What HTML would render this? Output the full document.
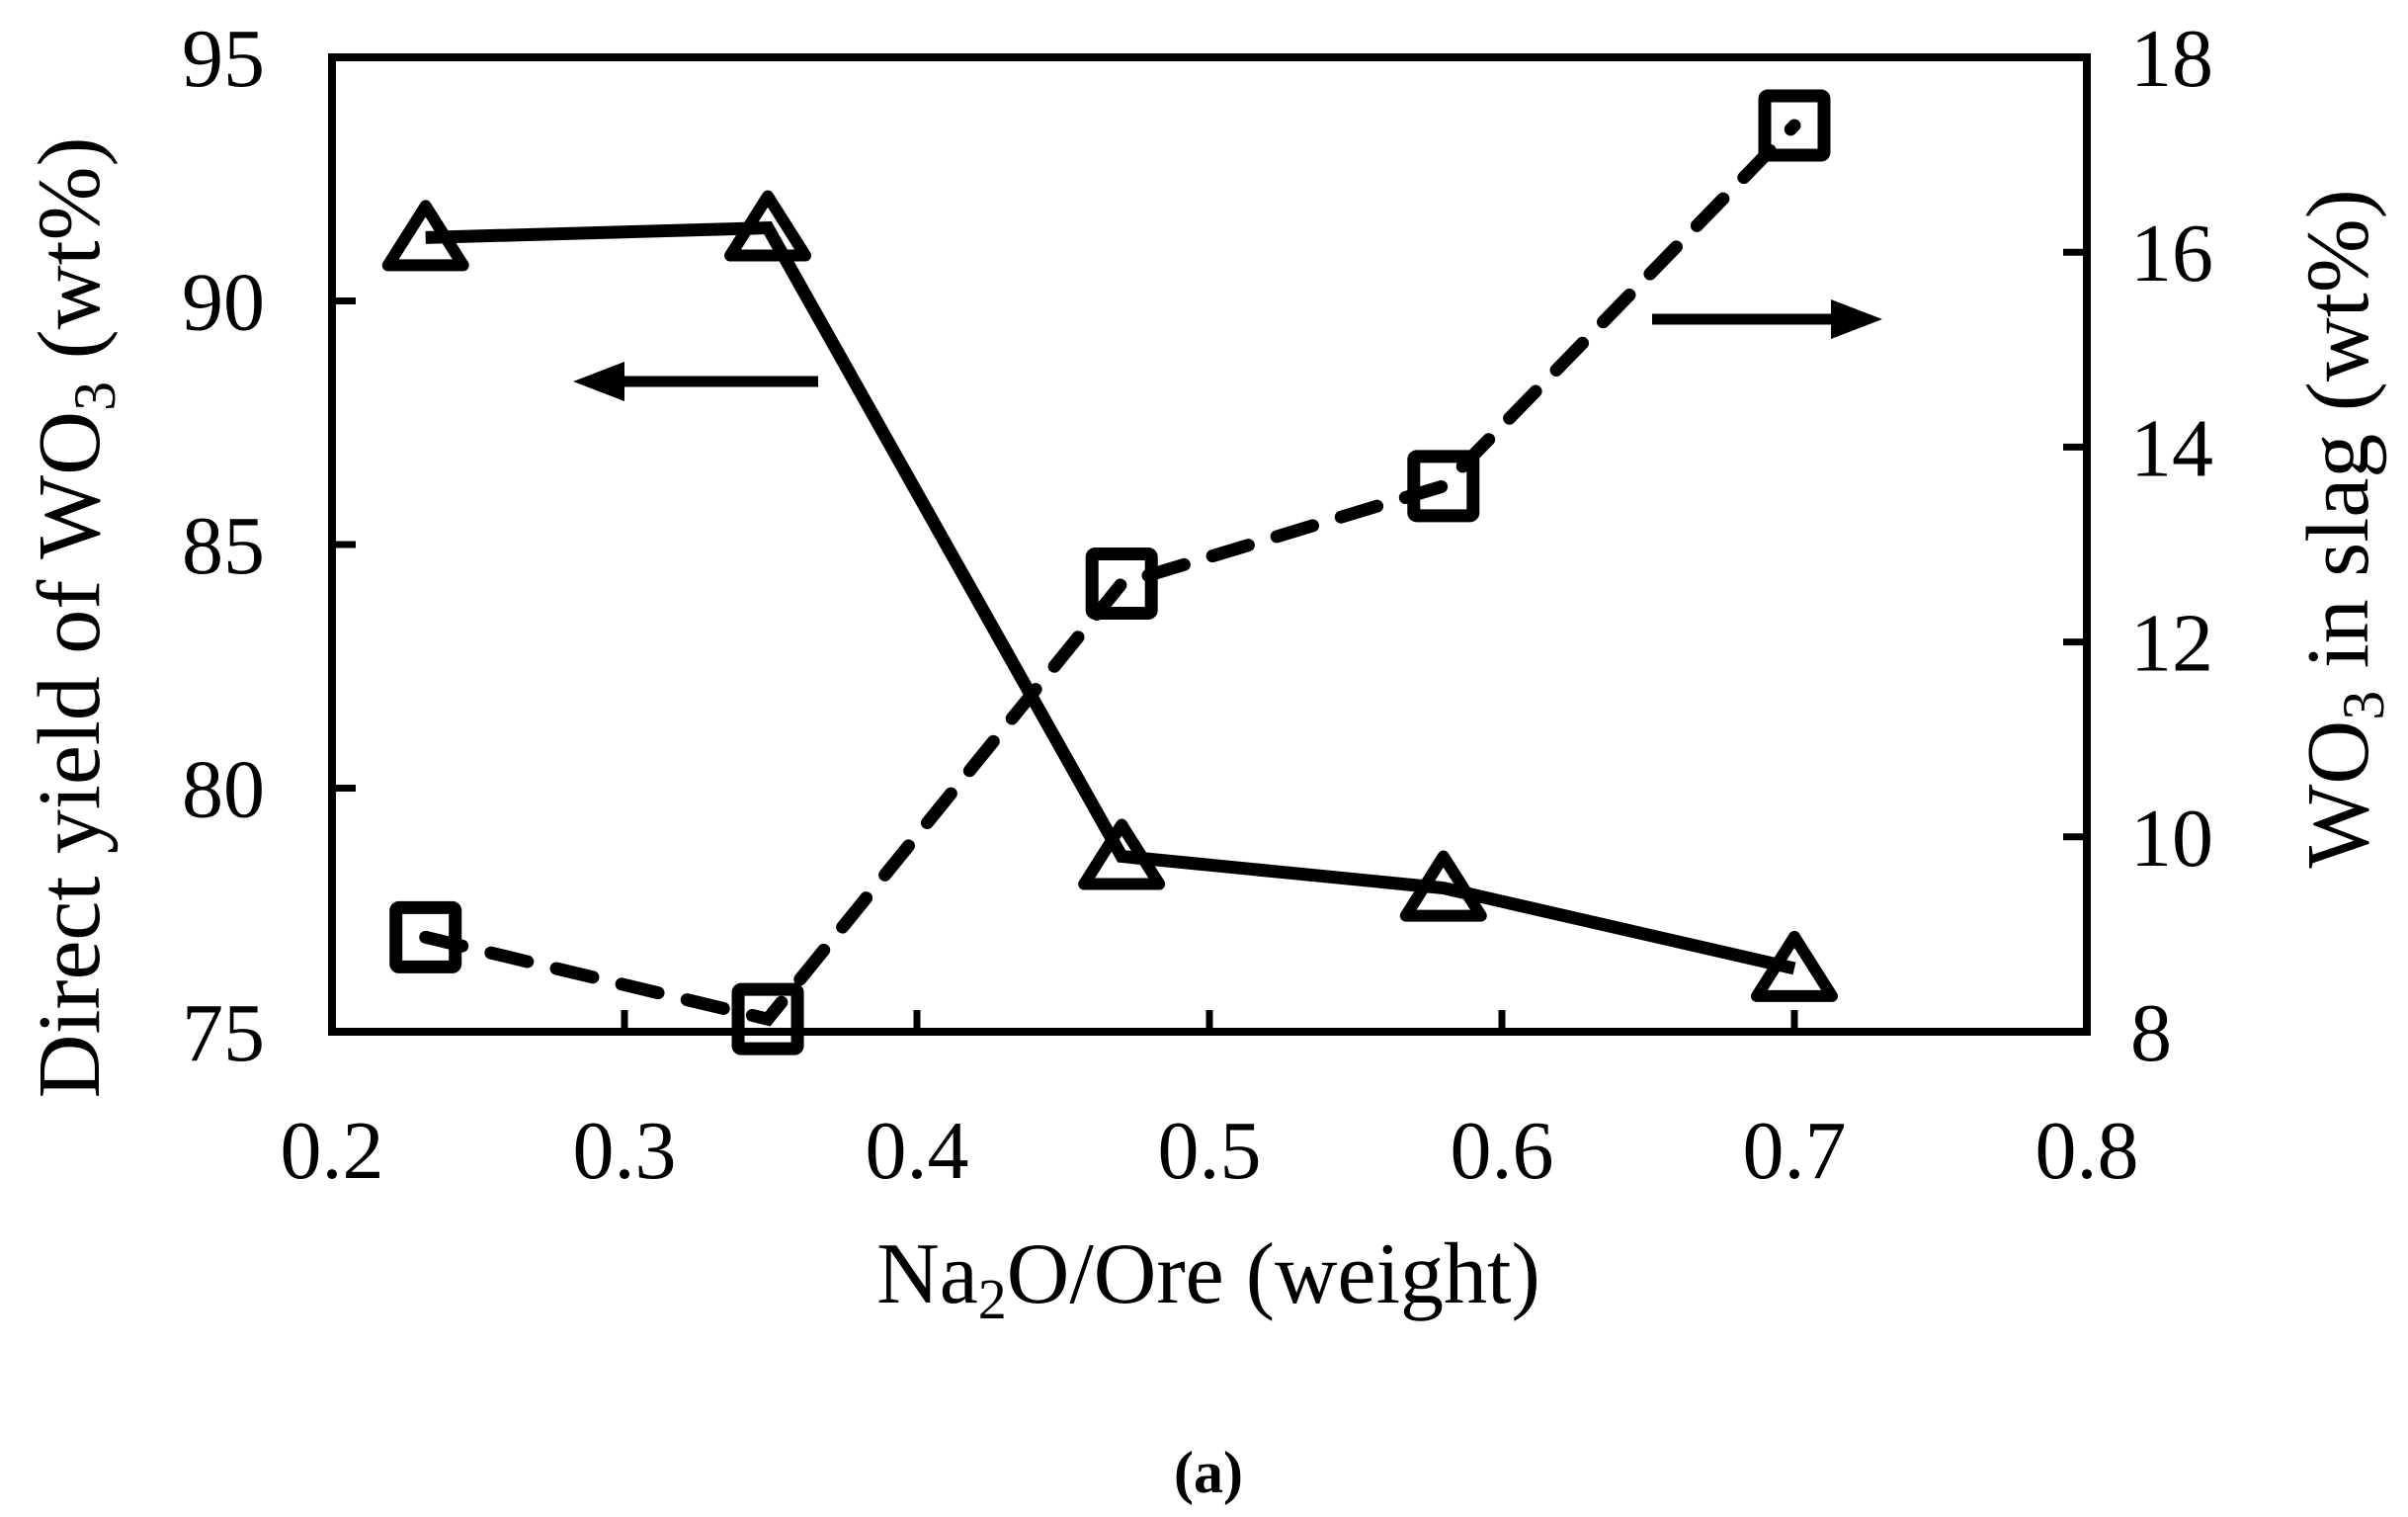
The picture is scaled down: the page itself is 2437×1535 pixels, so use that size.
<!DOCTYPE html>
<html><head><meta charset="utf-8"><style>
html,body{margin:0;padding:0;background:#fff}
svg{display:block;font-family:"Liberation Serif",serif}
</style></head><body>
<svg id="chart" width="2437" height="1535" viewBox="0 0 2437 1535" xmlns="http://www.w3.org/2000/svg">
<g id="marks"></g>
</svg>
<script>
const categories=[0.232,0.349,0.470,0.580,0.700];
const yieldValues=[91.3,91.5,78.6,77.95,76.3];
const slagValues=[8.97,8.13,12.6,13.6,17.3];
const xTicks=[0.2,0.3,0.4,0.5,0.6,0.7,0.8];
const yLeftTicks=[75,80,85,90,95];
const yRightTicks=[8,10,12,14,16,18];

const L=336,R=2112,T=58,B=1044;
const NS="http://www.w3.org/2000/svg";
const svg=document.getElementById('marks');
const xs=v=>L+(v-0.2)/0.6*(R-L);
const yl=v=>B-(v-75)/20*(B-T);
const yr=v=>B-(v-8)/10*(B-T);
function el(tag,attrs,parent){const e=document.createElementNS(NS,tag);for(const k in attrs)e.setAttribute(k,attrs[k]);(parent||svg).appendChild(e);return e;}
function txt(s,attrs){const e=el('text',attrs);e.textContent=s;return e;}

const fr=el('rect',{x:L,y:T,width:R-L,height:B-T,fill:'none',stroke:'#000','stroke-width':8});



xTicks.forEach(v=>{
  const x=xs(v);
  if(v>0.2&&v<0.8){const t=el('line',{x1:x,x2:x,y1:B,y2:B-22,stroke:'#000','stroke-width':7});
  
  }
  const l=txt(v.toFixed(1),{x:x,y:B+148,'font-size':84,'text-anchor':'middle'});
  
  
});
yLeftTicks.forEach(v=>{
  const y=yl(v);
  if(v>75&&v<95){const t=el('line',{x1:L,x2:L+24,y1:y,y2:y,stroke:'#000','stroke-width':7});
  
  }
  const l=txt(String(v),{x:268,y:y+29,'font-size':84,'text-anchor':'end'});
  
  
});
yRightTicks.forEach(v=>{
  const y=yr(v);
  if(v>8&&v<18){const t=el('line',{x1:R,x2:R-24,y1:y,y2:y,stroke:'#000','stroke-width':7});
  
  }
  const l=txt(String(v),{x:2156,y:y+29,'font-size':84,'text-anchor':'start'});
  
  
});

const sp=categories.map((c,i)=>xs(c)+','+yr(slagValues[i])).join(' ');
const sl=el('polyline',{points:sp,fill:'none',stroke:'#000','stroke-width':13,'stroke-dasharray':'38,30','stroke-linecap':'round'});


const yp=categories.map((c,i)=>xs(c)+','+yl(yieldValues[i])).join(' ');
const ylin=el('polyline',{points:yp,fill:'none',stroke:'#000','stroke-width':13});



categories.forEach((c,i)=>{
  const x=xs(c),y=yl(yieldValues[i]);
  const tr=el('polygon',{points:`${x},${y-32} ${x-38},${y+28} ${x+38},${y+28}`,fill:'none',stroke:'#000','stroke-width':12,'stroke-linejoin':'round'});
  
  
  const y2=yr(slagValues[i]);
  const sq=el('rect',{x:x-30,y:y2-30,width:60,height:60,fill:'none',stroke:'#000','stroke-width':13,rx:3});
  
  
});

const a1=el('g',{});


el('line',{x1:828,x2:620,y1:386,y2:386,stroke:'#000','stroke-width':11},a1);
el('polygon',{points:'580,386 632,366 632,406',fill:'#000'},a1);
const a2=el('g',{});


el('line',{x1:1672,x2:1865,y1:323,y2:323,stroke:'#000','stroke-width':11},a2);
el('polygon',{points:'1905,323 1853,303 1853,343',fill:'#000'},a2);

const lt=el('text',{x:0,y:0,'font-size':90,'text-anchor':'middle',transform:'translate(100,625) rotate(-90)'});


lt.innerHTML='Direct yield of WO<tspan font-size="60" dy="16">3</tspan><tspan dy="-16"> (wt%)</tspan>';
const rt=el('text',{x:0,y:0,'font-size':90,'text-anchor':'middle',transform:'translate(2396,535) rotate(-90)'});


rt.innerHTML='WO<tspan font-size="60" dy="16">3</tspan><tspan dy="-16"> in slag (wt%)</tspan>';
const xt=el('text',{x:1223,y:1318,'font-size':88,'text-anchor':'middle'});


xt.innerHTML='Na<tspan font-size="58" dy="16">2</tspan><tspan dy="-16">O/Ore (weight)</tspan>';
const cap=txt('(a)',{x:1223,y:1510,'font-size':60,'font-weight':'bold','text-anchor':'middle'});


</script>
</body></html>
